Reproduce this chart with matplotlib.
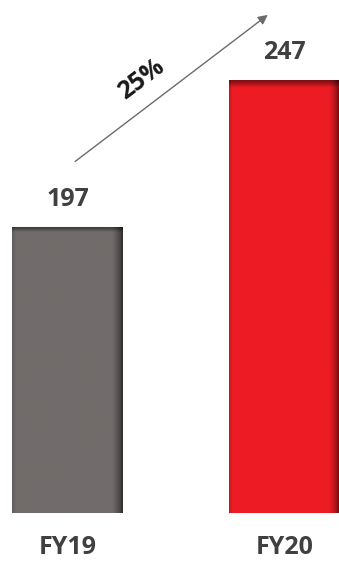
import numpy as np
import matplotlib
matplotlib.use('Agg')
import matplotlib.pyplot as plt
from matplotlib.colors import to_rgb

plt.rcParams['font.family'] = ['Open Sans', 'DejaVu Sans']

# 数据
years = ['FY19', 'FY20']
values = [197, 247]
colors = ['#716c6b', '#ed1c24']
growth_label = '25%'

fig = plt.figure(figsize=(3.39, 5.61), dpi=100)
ax = fig.add_axes([0, 0.0856, 1, 0.9144])

x = np.arange(len(years))
width = 0.51
base = 100

# 普通柱子 + 阴影效果
bars = ax.bar(x, np.array(values) - base, bottom=base, width=width, color=colors, zorder=1)
for xi, v, c in zip(x, values, colors):
    nx, ny = 120, 200
    u = np.linspace(0, 1, nx)
    t = np.linspace(0, 1, ny)[:, None]
    shade = np.ones((ny, nx))
    shade *= 1 - 0.55 * np.clip((u - 0.9) / 0.1, 0, 1) ** 1.5
    shade *= 1 - 0.15 * np.clip((0.03 - u) / 0.03, 0, 1)
    shade *= 1 - 0.45 * np.clip((t - 0.985) / 0.015, 0, 1)
    img = np.array(to_rgb(c))[None, None, :] * shade[:, :, None]
    ax.imshow(img, extent=[xi - width / 2, xi + width / 2, base, v],
              origin='lower', aspect='auto', interpolation='bilinear', zorder=2)

# 数值标签
for xi, v in zip(x, values):
    ax.annotate(str(v), (xi, v), xytext=(0, 11.5), textcoords='offset points',
                ha='center', va='bottom', fontsize=18, fontweight='bold', color='#404040')

# 增长箭头
ax.annotate('', xy=(0.933, 270), xytext=(0.025, 219),
            arrowprops=dict(arrowstyle='-|>', color='#6b6b6b', lw=1.0, mutation_scale=14))
ax.text(0.339, 247.3, growth_label, rotation=37, ha='center', va='center',
        fontsize=18, fontweight='bold', color='#1a1a1a', rotation_mode='anchor')

ax.set_xlim(-0.311, 1.251)
ax.set_ylim(base, 274.5)
ax.set_xticks(x)
ax.set_xticklabels(years, fontsize=18, fontweight='bold', color='#404040')
ax.tick_params(axis='x', length=0, pad=16)
ax.set_yticks([])
for s in ax.spines.values():
    s.set_visible(False)

plt.savefig('out.png', dpi=100)
